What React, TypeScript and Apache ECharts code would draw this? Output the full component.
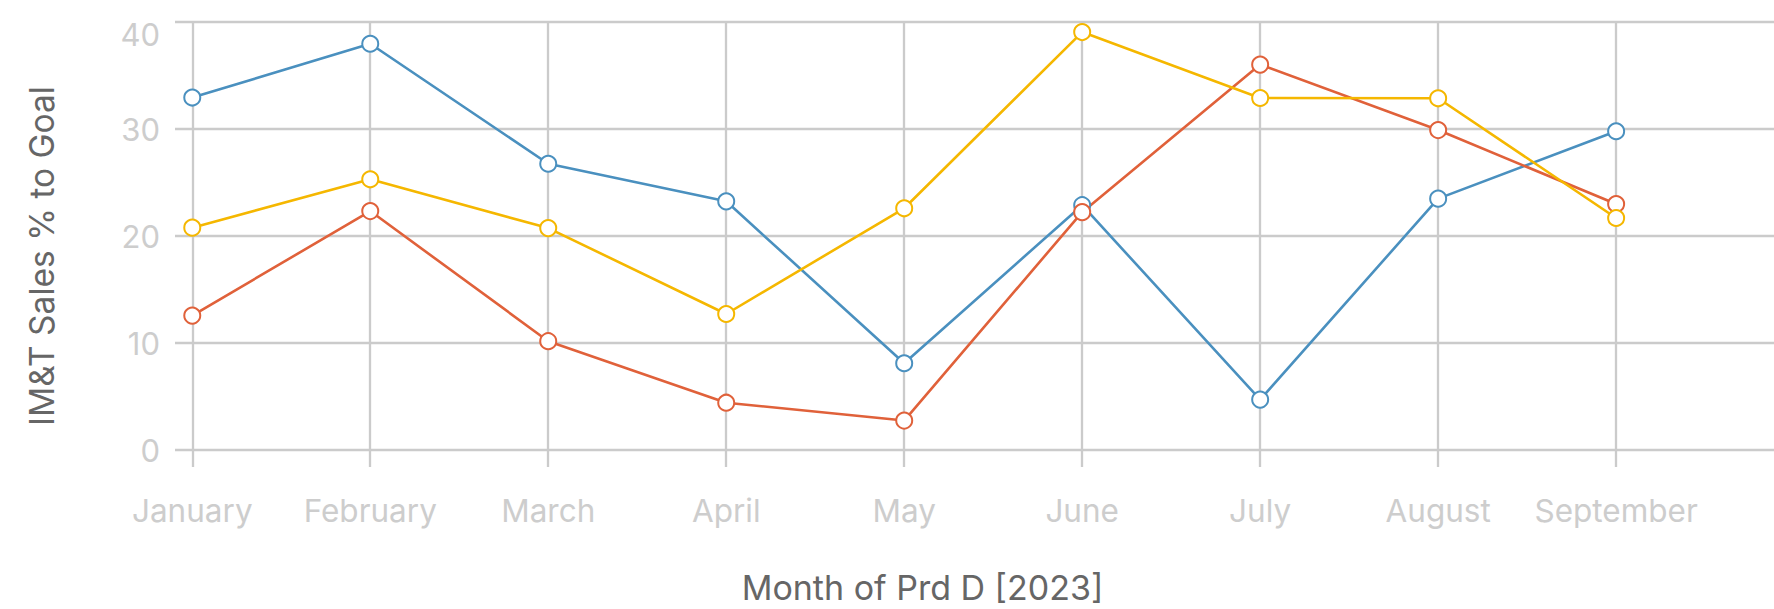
import React, { useEffect, useRef } from "react";
import * as echarts from "echarts";

const months = ["January", "February", "March", "April", "May", "June", "July", "August", "September"];
const blueValues = [32.94, 37.97, 26.75, 23.24, 8.11, 22.88, 4.71, 23.49, 29.79];
const redValues = [12.56, 22.33, 10.17, 4.42, 2.75, 22.23, 36.02, 29.9, 22.99];
const yellowValues = [20.78, 25.3, 20.74, 12.71, 22.59, 39.06, 32.9, 32.87, 21.68];
const yTicks = [0, 10, 20, 30, 40];

const FONT = "Inter";
const GRID_COLOR = "#cbcbcb";
const LABEL_COLOR = "#cdcdcd";
const TITLE_COLOR = "#666666";

export default function App() {
  const ref = useRef<HTMLDivElement>(null);
  useEffect(() => {
    if (!ref.current) return;
    const chart = echarts.init(ref.current, null, { renderer: "svg" });
    const idx = months.map((_, i) => i);
    const mk = (name: string, vals: number[], color: string) => ({
      name,
      type: "line",
      data: vals.map((v, i) => [i, v]),
      symbol: "emptyCircle",
      symbolSize: 16,
      lineStyle: { color, width: 2.6 },
      itemStyle: { color, borderWidth: 2.6 },
      z: 3,
    });
    chart.setOption({
      animation: false,
      backgroundColor: "#ffffff",
      grid: { left: 175, top: 22, right: 0, bottom: 158.3, containLabel: false },
      xAxis: {
        type: "value",
        min: -0.097,
        max: 8.887,
        name: "Month of Prd D [2023]",
        nameLocation: "middle",
        nameGap: 120,
        nameTextStyle: { fontFamily: FONT, fontSize: 34, color: TITLE_COLOR, padding: [0, 104, 0, 0] },
        axisLine: { show: false },
        axisTick: {
          show: true,
          customValues: idx,
          length: 17,
          lineStyle: { color: GRID_COLOR, width: 2.3 },
        },
        axisLabel: {
          customValues: idx,
          formatter: (v: number) => months[Math.round(v)] ?? "",
          fontFamily: FONT,
          fontSize: 31.5,
          color: LABEL_COLOR,
          margin: 44,
        },
        splitLine: { show: true, lineStyle: { color: GRID_COLOR, width: 2.3 } },
      },
      yAxis: {
        type: "value",
        min: yTicks[0],
        max: yTicks[yTicks.length - 1],
        interval: 10,
        name: "IM&T Sales % to Goal",
        nameLocation: "middle",
        nameGap: 116,
        nameRotate: 90,
        nameTextStyle: { fontFamily: FONT, fontSize: 33.5, color: TITLE_COLOR, padding: [0, 40, 0, 0] },
        axisLine: { show: false },
        axisTick: { show: false },
        axisLabel: {
          fontFamily: FONT,
          fontSize: 31,
          color: LABEL_COLOR,
          margin: 15,
          formatter: (v: number) => (v === 40 ? "{top|40}" : String(v)),
          rich: {
            top: { fontFamily: FONT, fontSize: 31, color: LABEL_COLOR, padding: [25, 0, 0, 0] },
          },
        },
        splitLine: { show: true, lineStyle: { color: GRID_COLOR, width: 2.3 } },
      },
      series: [
        mk("Blue", blueValues, "#4a90bf"),
        mk("Red", redValues, "#e0613a"),
        mk("Yellow", yellowValues, "#f5b700"),
      ],
    });
    return () => chart.dispose();
  }, []);
  return (
    <div
      ref={ref}
      style={{ position: "fixed", left: 0, top: 0, width: 1774, height: 609, background: "#fff" }}
    />
  );
}
